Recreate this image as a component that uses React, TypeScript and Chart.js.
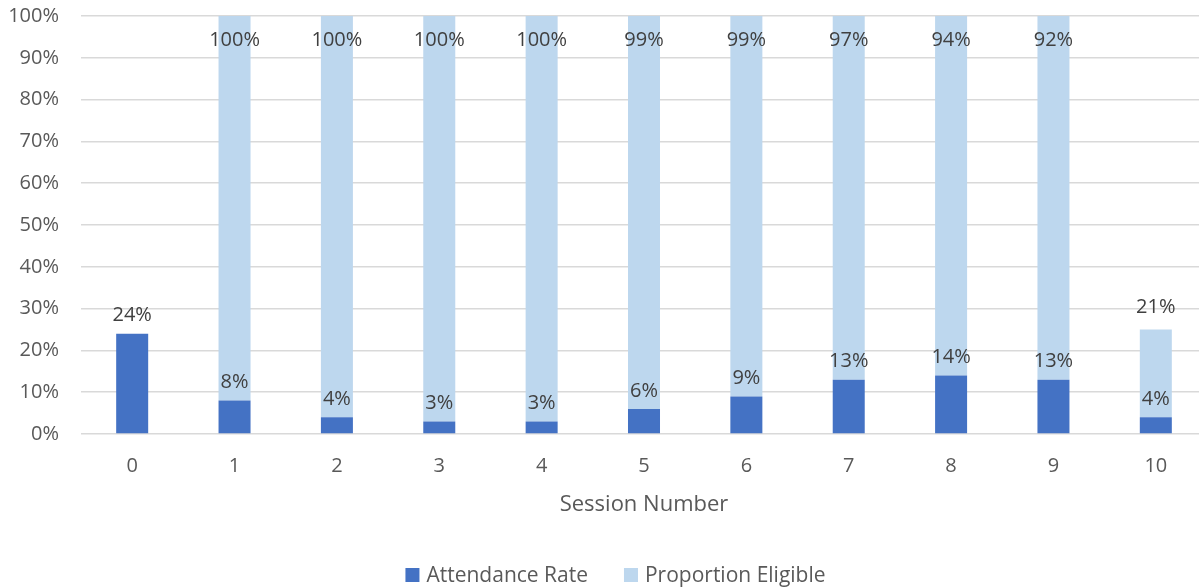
import React, { useEffect, useRef } from "react";
import { Chart, registerables } from "chart.js";

Chart.register(...registerables);

const sessions = ["0", "1", "2", "3", "4", "5", "6", "7", "8", "9", "10"];
const attendanceRate = [24, 8, 4, 3, 3, 6, 9, 13, 14, 13, 4];
const proportionEligible = [null, 100, 100, 100, 100, 99, 99, 97, 94, 92, 21];
const seriesNames = ["Attendance Rate", "Proportion Eligible"];
const seriesColors = ["#4472C4", "#BDD7EE"];

const FONT = "'Open Sans', 'DejaVu Sans', sans-serif";

const labelPlugin = {
  id: "barLabels",
  afterDatasetsDraw(chart: any) {
    const ctx = chart.ctx;
    const area = chart.chartArea;
    ctx.save();
    ctx.font = `20px ${FONT}`;
    ctx.fillStyle = "#404040";
    ctx.textAlign = "center";
    ctx.textBaseline = "middle";
    chart.data.datasets.forEach((ds: any, di: number) => {
      const meta = chart.getDatasetMeta(di);
      meta.data.forEach((el: any, i: number) => {
        const v = ds.data[i];
        if (v == null) return;
        let y = el.y - (di === 0 ? 18 : 22);
        if (di === 1) y = Math.max(y, area.top + 24);
        ctx.fillText(v + "%", el.x, y);
      });
    });
    ctx.restore();
  },
};

const legendPlugin = {
  id: "bottomLegend",
  afterDraw(chart: any) {
    const ctx = chart.ctx;
    ctx.save();
    ctx.font = `21px ${FONT}`;
    ctx.textBaseline = "middle";
    ctx.textAlign = "left";
    const box = 14;
    const gap = 7;
    const itemGap = 36;
    const widths = seriesNames.map((n) => ctx.measureText(n).width);
    const total =
      widths.reduce((a, b) => a + b, 0) + seriesNames.length * (box + gap) + itemGap * (seriesNames.length - 1);
    let x = 615.5 - total / 2;
    const cy = 575;
    seriesNames.forEach((n, i) => {
      ctx.fillStyle = seriesColors[i];
      ctx.fillRect(x, cy - box / 2, box, box);
      x += box + gap;
      ctx.fillStyle = "#595959";
      ctx.fillText(n, x, cy + 1);
      x += widths[i] + itemGap;
    });
    ctx.restore();
  },
};

export default function App() {
  const ref = useRef<HTMLCanvasElement | null>(null);

  useEffect(() => {
    if (!ref.current) return;
    const chart = new Chart(ref.current, {
      type: "bar",
      data: {
        labels: sessions,
        datasets: [
          {
            label: seriesNames[0],
            data: attendanceRate,
            backgroundColor: seriesColors[0],
            stack: "s",
            barPercentage: 0.3127,
            categoryPercentage: 1,
          },
          {
            label: seriesNames[1],
            data: proportionEligible,
            backgroundColor: seriesColors[1],
            stack: "s",
            barPercentage: 0.3127,
            categoryPercentage: 1,
          },
        ],
      },
      options: {
        animation: false,
        responsive: false,
        maintainAspectRatio: false,
        devicePixelRatio: 1,
        layout: { padding: { top: 16, left: 0, right: 0, bottom: 0 } },
        plugins: {
          legend: { display: false },
          tooltip: { enabled: false },
        },
        scales: {
          x: {
            stacked: true,
            offset: true,
            grid: { display: false, drawTicks: false },
            border: { display: false },
            ticks: { color: "#595959", font: { family: FONT, size: 20 }, padding: 20 },
            title: {
              display: true,
              text: "Session Number",
              color: "#595959",
              font: { family: FONT, size: 22 },
              padding: { top: 10, bottom: 69 },
            },
            afterFit: (s: any) => {
              s.height = 153;
              s.paddingLeft = 0;
              s.paddingRight = 0;
            },
          },
          y: {
            stacked: true,
            min: 0,
            max: 100,
            ticks: {
              stepSize: 10,
              color: "#595959",
              font: { family: FONT, size: 20 },
              padding: 22,
              callback: (v: any) => v + "%",
            },
            grid: { color: "#D9D9D9", drawTicks: false, lineWidth: 1.5 },
            border: { display: false },
            afterFit: (s: any) => {
              s.width = 81;
              s.paddingTop = 0;
              s.paddingBottom = 0;
            },
          },
        },
      },
      plugins: [labelPlugin, legendPlugin],
    });
    return () => chart.destroy();
  }, []);

  return (
    <div
      style={{
        position: "absolute",
        left: 0,
        top: 0,
        width: 1199,
        height: 587,
        overflow: "hidden",
        background: "#ffffff",
      }}
    >
      <canvas ref={ref} width={1207} height={587} style={{ display: "block", width: 1207, height: 587 }} />
    </div>
  );
}
